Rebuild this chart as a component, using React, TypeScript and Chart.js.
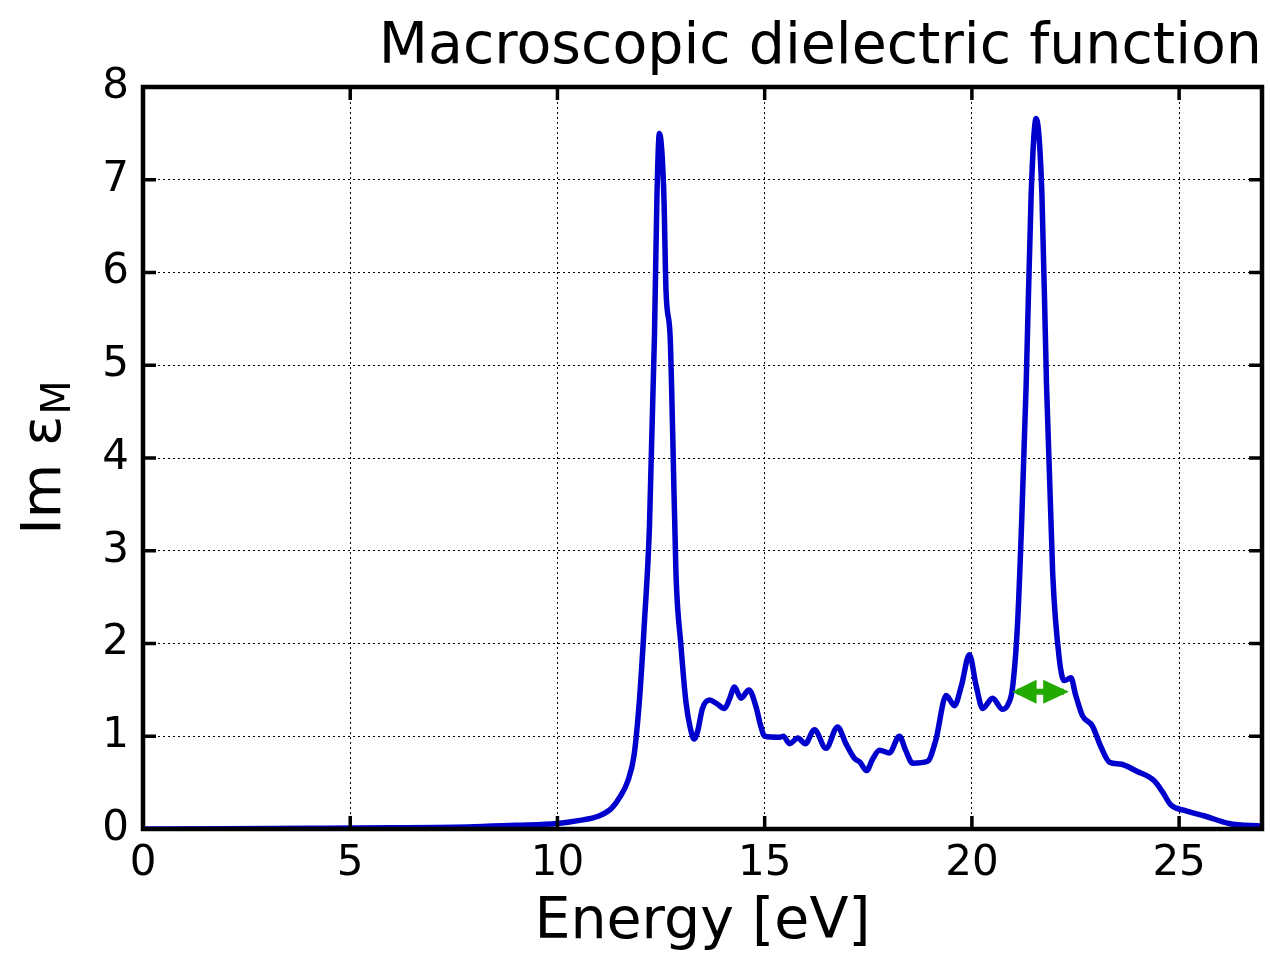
import React, { useEffect, useRef } from "react";
import { Chart, registerables } from "chart.js";

Chart.register(...registerables);

// Photon energy [eV]
const energy: number[] = [
  0, 2, 4, 6, 8, 9, 10, 10.5, 11.0, 11.3, 11.5, 11.7, 11.85, 11.98, 12.1, 12.22,
  12.34, 12.4, 12.46, 12.52, 12.57, 12.62, 12.72, 12.78, 12.86, 12.98, 13.1, 13.2,
  13.3, 13.38, 13.5, 13.67, 13.85, 14.03, 14.15, 14.27, 14.43, 14.62, 14.79, 14.9,
  15.0, 15.36, 15.45, 15.6, 15.8, 15.98, 16.2, 16.48, 16.76, 16.96, 17.17, 17.3,
  17.46, 17.6, 17.77, 18.01, 18.25, 18.4, 18.57, 18.93, 19.13, 19.38, 19.58, 19.75,
  19.94, 20.1, 20.26, 20.5, 20.74, 20.88, 20.98, 21.1, 21.2, 21.31, 21.43, 21.55,
  21.69, 21.8, 21.95, 22.11, 22.23, 22.39, 22.5, 22.67, 22.91, 23.1, 23.32, 23.58,
  23.99, 24.4, 24.6, 24.8, 25.13, 25.62, 26.2, 27,
];

// Im epsilon_M
const imEps: number[] = [
  0.0, 0.003, 0.007, 0.013, 0.025, 0.04, 0.06, 0.09, 0.14, 0.22, 0.34, 0.52, 0.8,
  1.4, 2.24, 3.26, 5.3, 6.8, 7.5, 7.3, 6.8, 5.8, 5.3, 4.28, 2.75, 1.98, 1.37, 1.1,
  0.97, 1.05, 1.3, 1.39, 1.35, 1.3, 1.4, 1.53, 1.41, 1.5, 1.32, 1.12, 1.0, 0.99,
  1.0, 0.92, 0.98, 0.92, 1.07, 0.87, 1.1, 0.92, 0.76, 0.72, 0.63, 0.75, 0.85, 0.82,
  1.0, 0.85, 0.71, 0.73, 0.96, 1.44, 1.33, 1.55, 1.88, 1.55, 1.3, 1.41, 1.29, 1.35,
  1.52, 2.2, 3.3, 4.8, 6.84, 7.66, 6.84, 4.8, 2.75, 1.83, 1.6, 1.63, 1.45, 1.22,
  1.11, 0.9, 0.72, 0.7, 0.62, 0.52, 0.4, 0.26, 0.2, 0.14, 0.06, 0.03,
];

const xTicks: number[] = [0, 5, 10, 15, 20, 25];
const yTicks: number[] = [0, 1, 2, 3, 4, 5, 6, 7, 8];

// Width marker (double arrow) in data coordinates
const arrowY = 1.48;
const arrowTips: number[] = [20.97, 22.34];
const arrowBases: number[] = [21.56, 21.72];

const FONT = "'DejaVu Sans', sans-serif";

const decorPlugin = {
  id: "decor",
  afterDatasetsDraw(chart: any) {
    const { ctx, chartArea } = chart;
    const xs = chart.scales.x;
    const ys = chart.scales.y;
    const { left, right, top, bottom } = chartArea;
    ctx.save();
    // frame
    ctx.strokeStyle = "#000";
    ctx.lineWidth = 4.5;
    ctx.strokeRect(left, top, right - left, bottom - top);
    // inward ticks
    ctx.lineWidth = 3.5;
    const tl = 13;
    ctx.beginPath();
    xTicks.forEach((v) => {
      const px = xs.getPixelForValue(v);
      ctx.moveTo(px, bottom);
      ctx.lineTo(px, bottom - tl);
      ctx.moveTo(px, top);
      ctx.lineTo(px, top + tl);
    });
    yTicks.forEach((v) => {
      const py = ys.getPixelForValue(v);
      ctx.moveTo(left, py);
      ctx.lineTo(left + tl, py);
      ctx.moveTo(right, py);
      ctx.lineTo(right - tl, py);
    });
    ctx.stroke();

    // green double arrow
    const ay = ys.getPixelForValue(arrowY);
    const x0 = xs.getPixelForValue(arrowTips[0]);
    const x1 = xs.getPixelForValue(arrowTips[1]);
    const b0 = xs.getPixelForValue(arrowBases[0]);
    const b1 = xs.getPixelForValue(arrowBases[1]);
    ctx.fillStyle = "#22AA00";
    ctx.fillRect(x0 + 5, ay - 3, x1 - x0 - 10, 6);
    const hh = 12;
    ctx.beginPath();
    ctx.moveTo(x0, ay);
    ctx.lineTo(b0, ay - hh);
    ctx.lineTo(b0, ay + hh);
    ctx.closePath();
    ctx.fill();
    ctx.beginPath();
    ctx.moveTo(x1, ay);
    ctx.lineTo(b1, ay - hh);
    ctx.lineTo(b1, ay + hh);
    ctx.closePath();
    ctx.fill();

    // y axis title: Im ε_M
    const cy = (top + bottom) / 2;
    ctx.translate(60, cy);
    ctx.rotate(-Math.PI / 2);
    ctx.fillStyle = "#000";
    ctx.textBaseline = "alphabetic";
    ctx.textAlign = "left";
    const mainFont = `56px ${FONT}`;
    const subFont = `40px ${FONT}`;
    ctx.font = mainFont;
    const main = "Im ε";
    const w1 = ctx.measureText(main).width;
    ctx.font = subFont;
    const w2 = ctx.measureText("M").width;
    const start = -(w1 + w2) / 2;
    ctx.font = mainFont;
    ctx.fillText(main, start, 0);
    ctx.font = subFont;
    ctx.fillText("M", start + w1 + 1, 10);
    ctx.restore();
  },
};

export default function App() {
  const canvasRef = useRef<HTMLCanvasElement | null>(null);

  useEffect(() => {
    const canvas = canvasRef.current;
    if (!canvas) return;
    const points = energy.map((e, i) => ({ x: e, y: imEps[i] }));
    const chart = new Chart(canvas, {
      type: "line",
      data: {
        datasets: [
          {
            data: points,
            borderColor: "#0000CC",
            borderWidth: 5.5,
            pointRadius: 0,
            fill: false,
            cubicInterpolationMode: "monotone",
          },
        ],
      },
      options: {
        responsive: false,
        animation: false,
        devicePixelRatio: 1,
        layout: { padding: { left: 0, right: 8, top: 0, bottom: 0 } },
        plugins: {
          legend: { display: false },
          tooltip: { enabled: false },
          title: {
            display: true,
            text: "Macroscopic dielectric function",
            align: "end",
            color: "#000",
            font: { family: FONT, size: 57, weight: "normal", lineHeight: 1.2 },
            padding: { top: 14, bottom: 4.6 },
          },
        },
        scales: {
          x: {
            type: "linear",
            min: 0,
            max: 27,
            afterFit: (s: any) => {
              s.height = 125;
            },
            ticks: {
              stepSize: 5,
              includeBounds: false,
              color: "#000",
              font: { family: FONT, size: 42 },
              padding: 10,
              maxRotation: 0,
            },
            grid: { color: "#000", lineWidth: 1, drawTicks: false },
            border: { display: false, dash: [2, 3] },
            title: {
              display: true,
              text: "Energy [eV]",
              color: "#000",
              font: { family: FONT, size: 57, lineHeight: 1.0 },
              padding: { top: 0, bottom: 2 },
            },
          },
          y: {
            type: "linear",
            min: 0,
            max: 8,
            afterFit: (s: any) => {
              s.width = 143;
            },
            ticks: {
              stepSize: 1,
              color: "#000",
              font: { family: FONT, size: 42 },
              padding: 14,
            },
            grid: { color: "#000", lineWidth: 1, drawTicks: false },
            border: { display: false, dash: [2, 3] },
          },
        },
      },
      plugins: [decorPlugin],
    });
    return () => chart.destroy();
  }, []);

  return (
    <div style={{ position: "absolute", left: 0, top: 0, width: 1270, height: 954, background: "#fff" }}>
      <canvas ref={canvasRef} width={1270} height={954} />
    </div>
  );
}
